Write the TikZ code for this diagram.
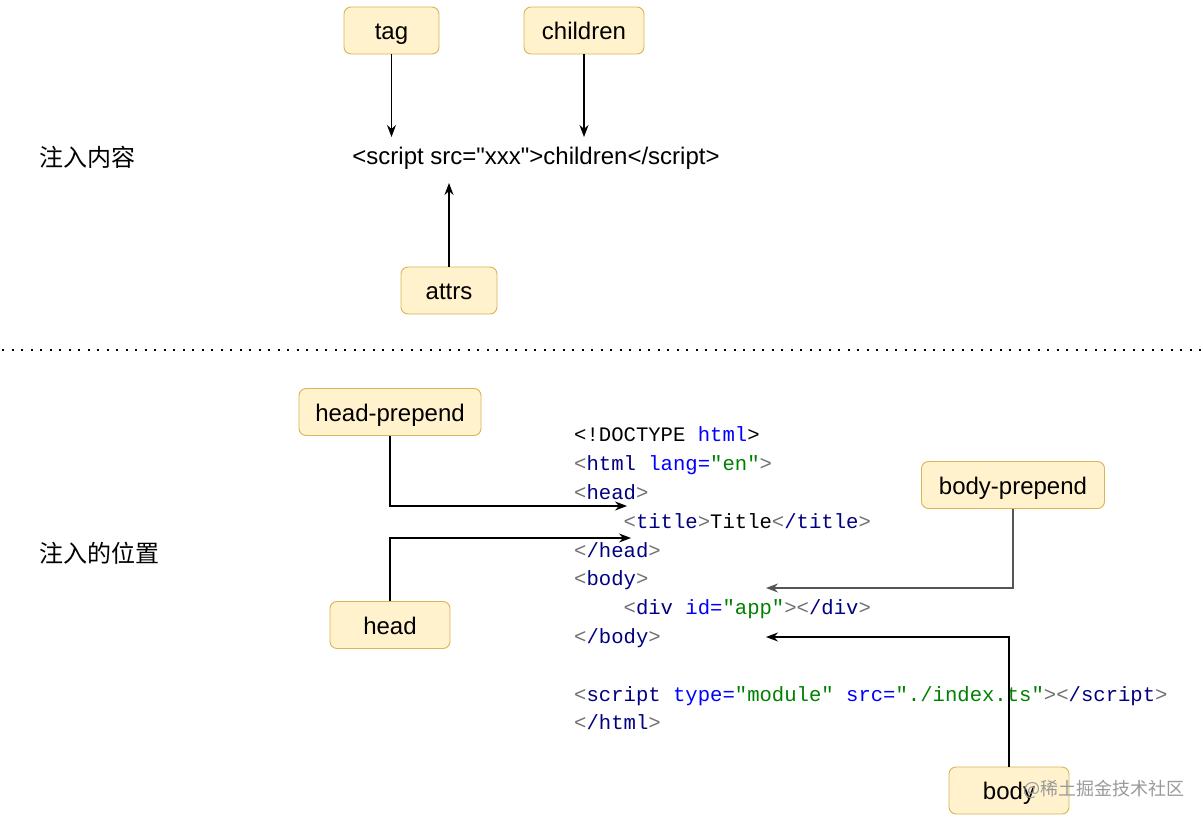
\documentclass[tikz,border=0pt]{standalone}
\usepackage{xcolor}
\usepackage{fontspec}
\usepackage{tikz}
\usetikzlibrary{arrows.meta, positioning, calc}
\setmainfont{Liberation Sans}
\setmonofont{Liberation Mono}
\newfontfamily\cjk{Noto Sans CJK SC}
\definecolor{notefill}{HTML}{FFF2CC}
\definecolor{noteline}{HTML}{D6B656}
\definecolor{tagnavy}{HTML}{000080}
\definecolor{attrblue}{HTML}{0000FF}
\definecolor{valgreen}{HTML}{008000}
\definecolor{brackgray}{HTML}{707070}
\definecolor{wiregray}{HTML}{555555}
\newcommand{\ctag}[1]{\textcolor{tagnavy}{#1}}
\newcommand{\cattr}[1]{\textcolor{attrblue}{#1}}
\newcommand{\cval}[1]{\textcolor{valgreen}{#1}}
\newcommand{\lb}{\textcolor{brackgray}{<}}
\newcommand{\rb}{\textcolor{brackgray}{>}}
\newcommand{\dq}{\textquotedbl}
\tikzset{
  hook/.style={draw=noteline, fill=notefill, rounded corners=7pt, line width=0.9pt,
    minimum height=47pt, text height=18pt, text depth=0pt, font=\fontsize{24}{28}\selectfont},
  link/.style={draw, line width=1.2pt, -{Stealth[length=12pt,width=9pt]}},
  codeline/.style={anchor=base west, inner sep=0pt, font=\ttfamily\fontsize{20.6}{28.8}\selectfont}
}
\begin{document}
\begin{tikzpicture}[x=1pt, y=-1pt]
  \useasboundingbox (0,0) rectangle (1203,822);

  % upper part: what gets injected
  \node[anchor=west, font=\cjk\fontsize{24}{28}\selectfont] (contentlabel) at (36,157) {注入内容};
  \node[font=\fontsize{24}{28}\selectfont] (content) at (536,158.5) {<script src=\dq xxx\dq>children</script>};

  \node[hook, minimum width=95pt] (tag) at (391.5,30.5) {tag};
  \node[hook, minimum width=120pt] (children) at (584,30.5) {children};
  \node[hook, minimum width=96pt] (attrs) at (449,290.5) {attrs};

  \coordinate (tag-in) at (391.5,137);
  \coordinate (children-in) at (584,137);
  \coordinate (attrs-in) at (449,183);
  \draw[link] (tag) -- (tag-in);
  \draw[link] (children) -- (children-in);
  \draw[link] (attrs) -- (attrs-in);

  \draw[line width=2pt, dash pattern=on 2pt off 7.5pt] (2,350) -- (1203,350);

  % lower part: where it gets injected
  \node[anchor=west, font=\cjk\fontsize{24}{28}\selectfont] (placelabel) at (36,553) {注入的位置};

  \node[codeline] (code1) at (574,441) {<!DOCTYPE \cattr{html}>};
  \node[codeline] (code2) at (574,470) {\lb\ctag{html} \cattr{lang=}\cval{\dq en\dq}\rb};
  \node[codeline] (code3) at (574,499) {\lb\ctag{head}\rb};
  \node[codeline] (code4) at (574,528) {\ \ \ \ \lb\ctag{title}\rb Title\lb\ctag{/title}\rb};
  \node[codeline] (code5) at (574,557) {\lb\ctag{/head}\rb};
  \node[codeline] (code6) at (574,585) {\lb\ctag{body}\rb};
  \node[codeline] (code7) at (574,614) {\ \ \ \ \lb\ctag{div} \cattr{id=}\cval{\dq app\dq}\rb\lb\ctag{/div}\rb};
  \node[codeline] (code8) at (574,643) {\lb\ctag{/body}\rb};
  \node[codeline] (code9) at (574,701) {\lb\ctag{script} \cattr{type=}\cval{\dq module\dq} \cattr{src=}\cval{\dq./index.ts\dq}\rb\lb\ctag{/script}\rb};
  \node[codeline] (code10) at (574,729) {\lb\ctag{/html}\rb};

  \node[hook, minimum width=182pt] (headpre) at (390,412) {head-prepend};
  \node[hook, minimum width=120pt] (head) at (390,625) {head};
  \node[hook, minimum width=183pt] (bodypre) at (1013,485) {body-prepend};
  \node[hook, minimum width=120pt] (body) at (1009,790.5) {body};

  \coordinate (headpre-in) at (627,506);
  \coordinate (head-in) at (631,538);
  \coordinate (bodypre-in) at (766,588);
  \coordinate (body-in) at (766,637);
  \draw[link] (headpre) |- (headpre-in);
  \draw[link] (head) |- (head-in);
  \draw[link, draw=wiregray] (bodypre) |- (bodypre-in);
  \draw[link] (body) |- (body-in);

  \node[anchor=west, text=gray!80, font=\cjk\fontsize{18}{20}\selectfont] (mark) at (1020,789) {@稀土掘金技术社区};
\end{tikzpicture}
\end{document}
